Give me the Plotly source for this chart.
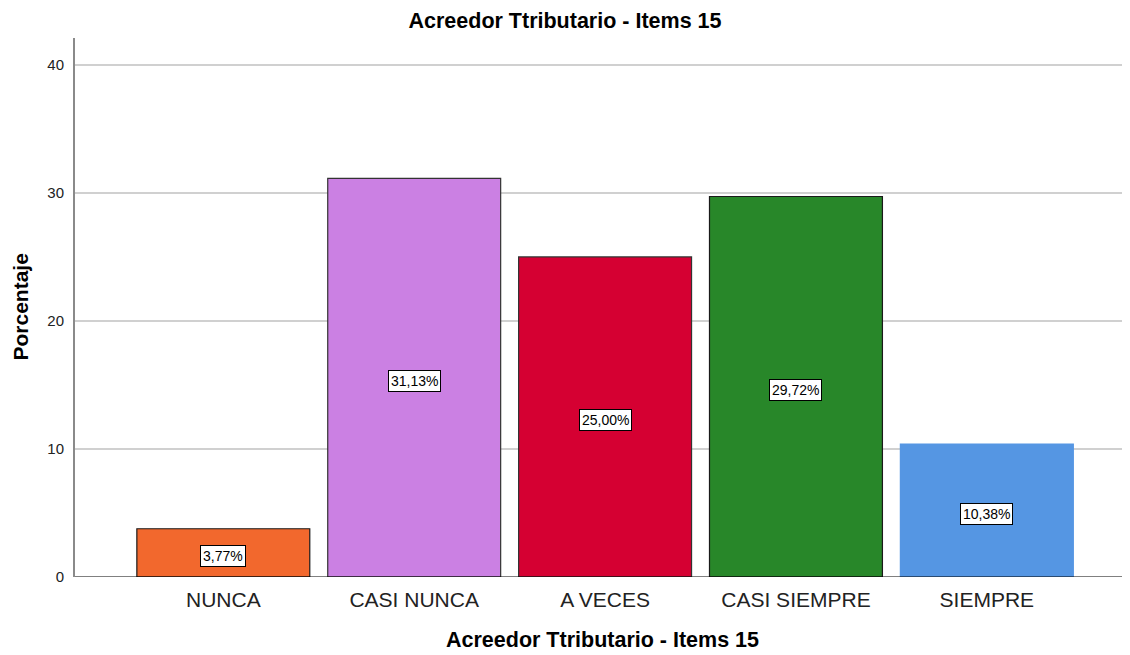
import plotly.graph_objects as go

categories = ["NUNCA", "CASI NUNCA", "A VECES", "CASI SIEMPRE", "SIEMPRE"]
values = [3.77, 31.13, 25.00, 29.72, 10.38]
colors = ["#F2682D", "#CB80E3", "#D50032", "#288729", "#5596E3"]
edge_colors = ["#1a1a1a", "#333333", "#333333", "#1a1a1a", "#5596E3"]
y_ticks = [0, 10, 20, 30, 40]
title = "Acreedor Ttributario - Items 15"

FONT = "Arial, Liberation Sans, sans-serif"


def fmt(v):
    return f"{v:.2f}".replace(".", ",") + "%"


fig = go.Figure()
fig.add_trace(go.Bar(
    x=list(range(len(categories))), y=values,
    marker=dict(color=colors, line=dict(color=edge_colors, width=1.2)),
    width=0.906, hoverinfo="skip",
))

for i, v in enumerate(values):
    fig.add_annotation(
        x=i, y=v / 2, text=fmt(v), showarrow=False, yshift=-3,
        font=dict(family=FONT, size=14, color="#000"),
        bgcolor="#ffffff", bordercolor="#000000", borderwidth=1, borderpad=2,
    )

# axis titles
fig.add_annotation(
    xref="paper", yref="paper", x=0.5, y=0, yshift=-63, xanchor="center", yanchor="middle",
    text="<b>" + title + "</b>", showarrow=False, font=dict(family=FONT, size=21.5, color="#000"),
)
fig.add_annotation(
    xref="paper", yref="paper", x=0, y=0.5, xshift=-55, xanchor="center", yanchor="middle",
    text="<b>Porcentaje</b>", textangle=-90, showarrow=False,
    font=dict(family=FONT, size=21, color="#000"),
)

fig.update_layout(
    width=1122, height=647,
    margin=dict(l=67, r=0, t=30, b=78),
    paper_bgcolor="#ffffff", plot_bgcolor="#ffffff",
    showlegend=False,
    title=dict(text="<b>" + title + "</b>", x=557 / 1122, xanchor="center", xref="container",
               y=1 - 12 / 647, yanchor="middle",
               font=dict(family=FONT, size=21.5, color="#000")),
    font=dict(family=FONT, color="#000"),
)
fig.update_xaxes(
    range=[-0.777, 4.75], tickmode="array", tickvals=list(range(len(categories))),
    ticktext=categories, tickfont=dict(family=FONT, size=21, color="#222"), showgrid=False,
    showline=False, zeroline=False, ticks="", ticklabelstandoff=8,
)
fig.update_yaxes(
    range=[0, 42.1], tickvals=y_ticks, tickfont=dict(family=FONT, size=15, color="#222"),
    showgrid=True, gridcolor="#d0d0d0", gridwidth=1.5,
    showline=True, linecolor="#8a8a8a", linewidth=2,
    zeroline=False, ticks="", ticklabelstandoff=6,
)
fig.add_hline(y=0, line=dict(color="#000000", width=1))

fig.write_html("out.html")
